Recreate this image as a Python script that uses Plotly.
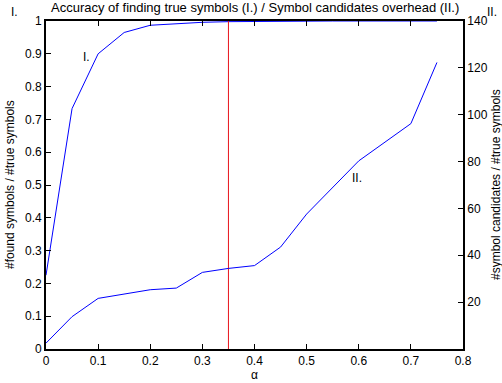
import plotly.graph_objects as go

# Curve I: accuracy (left axis)
alpha_I = [0, 0.05, 0.1, 0.15, 0.2, 0.25, 0.3, 0.35, 0.4, 0.45, 0.5, 0.55, 0.6, 0.65, 0.7, 0.75]
acc_I = [0.225, 0.733, 0.9, 0.965, 0.987, 0.992, 0.996, 0.998, 0.999, 1.0, 1.0, 1.0, 1.0, 1.0, 1.0, 1.0]

# Curve II: overhead (right axis)
alpha_II = [0, 0.05, 0.1, 0.15, 0.2, 0.25, 0.3, 0.35, 0.4, 0.45, 0.5, 0.6, 0.7, 0.75]
overhead_II = [2.5, 13.8, 21.6, 23.3, 25.3, 26.0, 32.7, 34.4, 35.6, 43.5, 57.6, 80.3, 96.2, 122.3]

threshold = 0.35

x_ticks = [0, 0.1, 0.2, 0.3, 0.4, 0.5, 0.6, 0.7, 0.8]
y_ticks = [0, 0.1, 0.2, 0.3, 0.4, 0.5, 0.6, 0.7, 0.8, 0.9, 1]
y2_ticks = [20, 40, 60, 80, 100, 120, 140]

title_text = "Accuracy of finding true symbols (I.) / Symbol candidates overhead (II.)"
FONT = "Liberation Sans, Arial, sans-serif"

fig = go.Figure()
fig.add_trace(go.Scatter(x=alpha_I, y=acc_I, mode="lines",
                         line=dict(color="#0000ff", width=1), yaxis="y", showlegend=False))
fig.add_trace(go.Scatter(x=alpha_II, y=overhead_II, mode="lines",
                         line=dict(color="#0000ff", width=1), yaxis="y2", showlegend=False))
fig.add_trace(go.Scatter(x=[threshold, threshold], y=[0, 1], mode="lines",
                         line=dict(color="#e8141b", width=1), yaxis="y", showlegend=False))

axis_common = dict(showline=True, linecolor="black", linewidth=1.8, ticks="inside",
                   ticklen=5, tickcolor="black", tickwidth=1, showgrid=False, zeroline=False,
                   automargin=False,
                   tickfont=dict(family=FONT, size=12, color="black"))

def note(text, x, y, xref="paper", yref="paper", xshift=0, yshift=0, angle=0, size=12):
    return dict(text=text, x=x, y=y, xref=xref, yref=yref, xshift=xshift, yshift=yshift,
                textangle=angle, xanchor="center", yanchor="middle", showarrow=False,
                font=dict(size=size))

fig.update_layout(
    width=502, height=383,
    margin=dict(l=46, r=39, t=21, b=34, autoexpand=False),
    paper_bgcolor="white", plot_bgcolor="white",
    font=dict(family=FONT, size=12, color="black"),
    xaxis=dict(range=[0, 0.8], tickvals=x_ticks, ticktext=[f"{v:g}" for v in x_ticks],
               mirror="ticks", **axis_common),
    yaxis=dict(range=[0, 1], tickvals=y_ticks, ticktext=[f"{v:g}" for v in y_ticks],
               mirror=False, **axis_common),
    yaxis2=dict(range=[0, 140], tickvals=y2_ticks, overlaying="y", side="right",
                anchor="x", **axis_common),
    annotations=[
        note(title_text, 0.5, 1, yshift=14, size=13),
        note("#found symbols / #true symbols", 0, 0.5, xshift=-36, angle=-90),
        note("#symbol candidates / #true symbols", 1, 0.5, xshift=33, angle=-90),
        note("α", 0.4, 0, xref="x", yshift=-26),
        note("I.", 0.0775, 0.89, xref="x", yref="y"),
        note("II.", 0.596, 0.521, xref="x", yref="y"),
        note("I.", 0, 1, xshift=-32, yshift=9),
        note("II.", 1, 1, xshift=29, yshift=9),
    ],
)

fig.write_html("out.html", config={"displayModeBar": False},
               post_script="document.body.style.margin='0';")
